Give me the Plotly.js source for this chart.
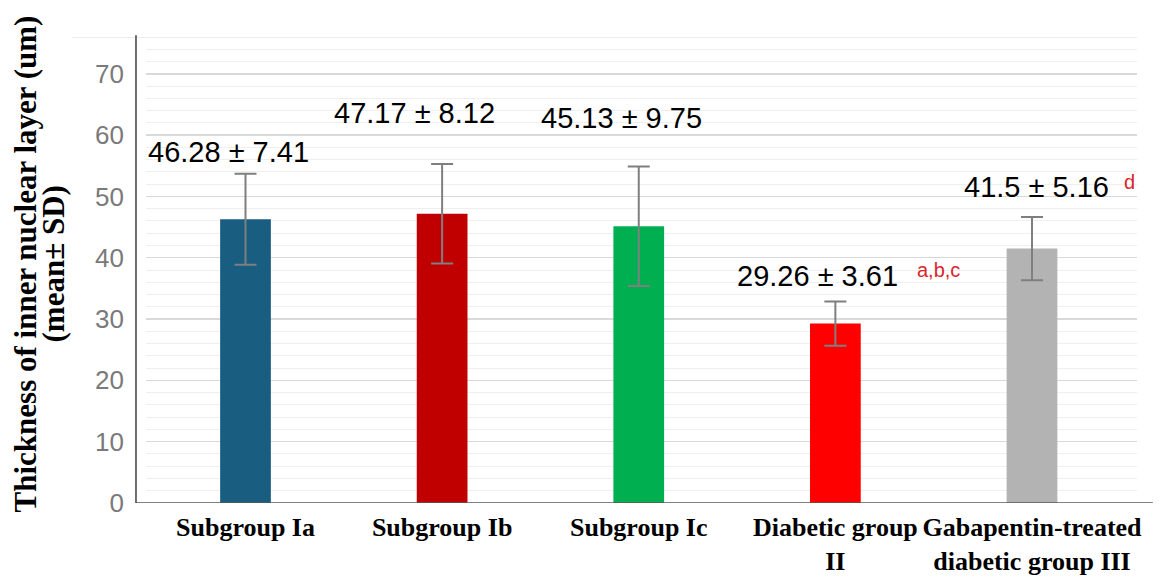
<!DOCTYPE html>
<html>
<head>
<meta charset="utf-8">
<script src="https://cdn.plot.ly/plotly-3.0.1.min.js"></script>
<style>
  html, body { margin: 0; padding: 0; background: #ffffff; }
  #chart { width: 1162px; height: 580px; }
</style>
</head>
<body>
<div id="chart"></div>
<script>
// Inner nuclear layer thickness per group (mean ± SD)
const groups = [
  "Subgroup Ia",
  "Subgroup Ib",
  "Subgroup Ic",
  "Diabetic group<br>II",
  "Gabapentin-treated<br>diabetic group III"
];
const means = [46.28, 47.17, 45.13, 29.26, 41.5];
const sds = [7.41, 8.12, 9.75, 3.61, 5.16];
const significance = ["", "", "", "a,b,c", "d"];

const barColors = ["#195e80", "#c00000", "#00b050", "#ff0000", "#b3b3b3"];

// label placement (pixel offsets from the top of each error bar)
const labelDx = [-17, -28, -17, -18, 4];
const labelDy = [22, 51, 49, 25, 30];
const sigDx = [0, 0, 0, 80, 90];
const sigDy = [0, 0, 0, 31, 35];

const annotations = [];
groups.forEach((g, i) => {
  const top = means[i] + sds[i];
  annotations.push({
    x: g, y: top, xref: "x", yref: "y",
    text: means[i] + " ± " + sds[i],
    showarrow: false,
    xanchor: "center", yanchor: "middle",
    xshift: labelDx[i], yshift: labelDy[i],
    font: { family: "Liberation Sans, Arial, sans-serif", size: 29, color: "#000000" }
  });
  if (significance[i]) {
    annotations.push({
      x: g, y: top, xref: "x", yref: "y",
      text: significance[i],
      showarrow: false,
      xanchor: "left", yanchor: "middle",
      xshift: sigDx[i], yshift: sigDy[i],
      font: { family: "Liberation Sans, Arial, sans-serif", size: 20, color: "#d9262b" }
    });
  }
});

// y-axis title, two rotated lines
const yTitleLines = ["Thickness of inner nuclear layer (um)", "(mean± SD)"];
const yTitleX = [-0.1216, -0.0933];
yTitleLines.forEach((line, i) => {
  annotations.push({
    x: yTitleX[i], y: 0.513, xref: "paper", yref: "paper",
    text: "<b>" + line + "</b>",
    textangle: -90,
    showarrow: false,
    xanchor: "center", yanchor: "middle",
    font: { family: "Liberation Serif, Times New Roman, serif", size: 31, color: "#000000" }
  });
});

const trace = {
  type: "bar",
  x: groups,
  y: means,
  marker: { color: barColors },
  error_y: {
    type: "data",
    array: sds,
    visible: true,
    color: "#7f7f7f",
    thickness: 2,
    width: 11
  },
  hoverinfo: "skip"
};

const layout = {
  width: 1162,
  height: 580,
  margin: { l: 146, r: 25, t: 37, b: 77 },
  paper_bgcolor: "#ffffff",
  plot_bgcolor: "#ffffff",
  showlegend: false,
  bargap: 0.742,
  xaxis: {
    type: "category",
    showgrid: false,
    showline: false,
    zeroline: false,
    ticks: "",
    tickangle: 0,
    ticklabelstandoff: 6,
    tickfont: { family: "Liberation Serif, Times New Roman, serif", size: 26, color: "#000000", weight: "bold" }
  },
  yaxis: {
    range: [0, 76],
    tick0: 0,
    dtick: 10,
    showline: false,
    zeroline: false,
    ticks: "",
    ticklabelstandoff: 21,
    gridcolor: "#d9d9d9",
    gridwidth: 1.5,
    minor: { dtick: 2, showgrid: true, gridcolor: "#efefef", gridwidth: 1 },
    tickfont: { family: "Liberation Sans, Arial, sans-serif", size: 26, color: "#7a7a7a" }
  },
  shapes: [
    // top border line
    { type: "line", xref: "paper", yref: "y", x0: -0.075, x1: 1, y0: 76, y1: 76,
      line: { color: "#e6e6e6", width: 1.5 } },
    // vertical axis line
    { type: "line", xref: "paper", yref: "paper", x0: -0.0101, x1: -0.0101, y0: 0, y1: 1.004,
      line: { color: "#404040", width: 1.5 } },
    // horizontal axis line
    { type: "line", xref: "paper", yref: "y", x0: -0.0101, x1: 1.016, y0: 0, y1: 0,
      line: { color: "#595959", width: 1.5 } }
  ],
  annotations: annotations
};

Plotly.newPlot("chart", [trace], layout, { displayModeBar: false, staticPlot: true });
</script>
</body>
</html>
